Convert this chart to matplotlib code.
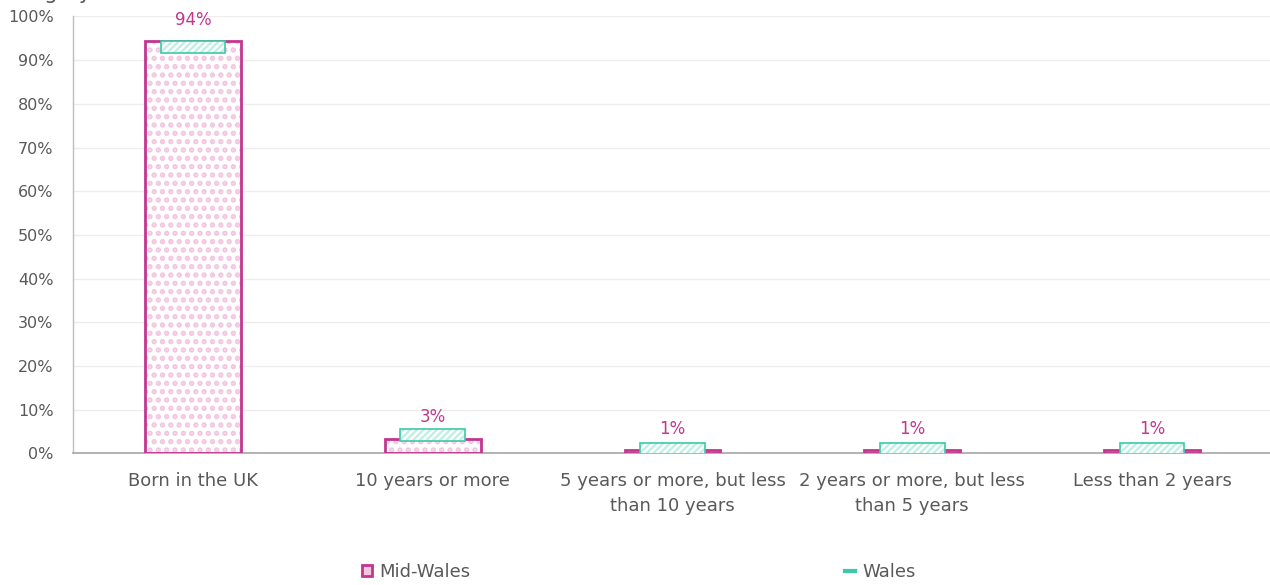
import matplotlib
matplotlib.use("Agg")
import matplotlib.pyplot as plt
import numpy as np
from matplotlib.patches import Patch
from matplotlib.lines import Line2D

categories = ["Born in the UK", "10 years or more",
              "5 years or more, but less\nthan 10 years",
              "2 years or more, but less\nthan 5 years",
              "Less than 2 years"]
mid_wales = [94.3, 3.4, 0.7, 0.7, 0.7]
wales = [93.1, 4.2, 1.1, 1.1, 1.1]
yticks = list(range(0, 101, 10))

PINK = "#C2378E"
PINK_LIGHT = "#F2C6E1"
TEAL = "#3DC9A9"
TEAL_LIGHT = "#BDEFE2"
GREY = "#595959"

plt.rcParams['font.family'] = ['DejaVu Sans']
plt.rcParams['hatch.linewidth'] = 2.6

fig = plt.figure(figsize=(12.7, 5.85), dpi=100)
ax = fig.add_axes([0.0575, 0.2248, 0.944, 0.747])

x = np.arange(len(categories))

# Mid-Wales fill (dot pattern) and outline
ax.bar(x, mid_wales, width=0.4, color="white", edgecolor=PINK_LIGHT,
       hatch="..", linewidth=0, zorder=2)
bars = ax.bar(x, mid_wales, width=0.4, color="none", edgecolor=PINK,
              linewidth=2, zorder=3)

# Wales marker box centred on value
box_h = 2.8
wb = np.array(wales) - box_h / 2
plt.rcParams['hatch.linewidth'] = 1.6
ax.bar(x, box_h, bottom=wb, width=0.27, color="white", edgecolor=TEAL_LIGHT,
       hatch="/////", linewidth=0, zorder=4)
ax.bar(x, box_h, bottom=wb, width=0.27, color="none", edgecolor=TEAL,
       linewidth=1.2, zorder=5)

ax.bar_label(bars, labels=[f"{round(v)}%" for v in mid_wales], padding=9,
             color=PINK, fontsize=12, zorder=6)

ax.set_xlim(-0.5, len(categories) - 0.5)
ax.set_ylim(0, 100)
ax.set_yticks(yticks)
ax.set_yticklabels([f"{t}%" for t in yticks])
ax.set_xticks(x)
ax.set_xticklabels(categories, linespacing=1.55)
ax.tick_params(axis="y", length=0, pad=14, labelsize=11.5, labelcolor=GREY)
ax.tick_params(axis="x", length=0, pad=13, labelsize=13, labelcolor=GREY)

ax.grid(axis="y", color="#EDEDED", linewidth=1, zorder=0)
ax.set_axisbelow(True)
for s in ["top", "right"]:
    ax.spines[s].set_visible(False)
ax.spines["left"].set_color("#BFBFBF")
ax.spines["bottom"].set_color("#A6A6A6")
ax.spines["left"].set_linewidth(1)
ax.spines["bottom"].set_linewidth(1.2)

fig.text(0.0, 1 + 1 / 585, "category", fontsize=15, color=GREY,
         va="baseline", ha="left")

handles = [Patch(facecolor=PINK_LIGHT, edgecolor=PINK, linewidth=2),
           Line2D([], [], color=TEAL, linewidth=3)]
fig.legend(handles, ["Mid-Wales", "Wales"], loc="center",
           bbox_to_anchor=(0.503, 1 - 572 / 585), ncol=2, frameon=False,
           fontsize=13, labelcolor=GREY, handlelength=0.6, handleheight=0.6,
           handletextpad=0.4, columnspacing=20.7)

fig.savefig("out.png", dpi=100)
